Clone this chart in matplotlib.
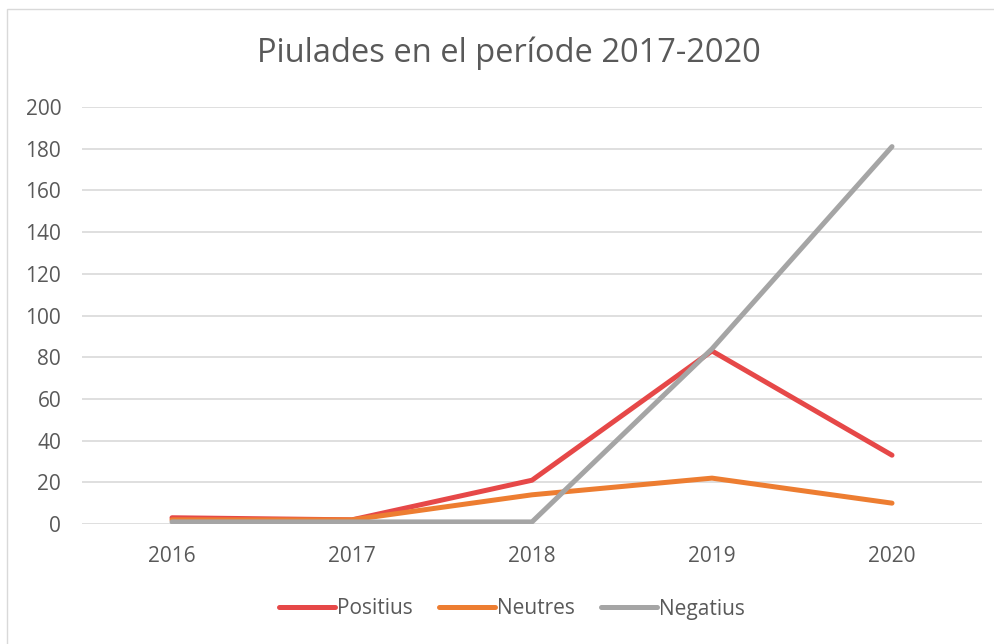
import matplotlib.pyplot as plt
from matplotlib.patches import Rectangle

years = ['2016', '2017', '2018', '2019', '2020']
positius = [3, 2, 21, 83, 33]
neutres = [2, 2, 14, 22, 10]
negatius = [1, 1, 1, 84, 181]

series = [
    ('Positius', positius, '#E64848'),
    ('Neutres', neutres, '#ED7D31'),
    ('Negatius', negatius, '#A5A5A5'),
]

plt.rcParams['font.family'] = ['Open Sans', 'DejaVu Sans']
text_color = '#595959'

fig = plt.figure(figsize=(9.95, 6.44), dpi=100)
ax = fig.add_axes([82 / 995, 1 - 524 / 644, 900 / 995, 417 / 644])

x = range(len(years))
for name, values, color in series:
    ax.plot(x, values, color=color, linewidth=3.6, label=name,
            solid_capstyle='round', solid_joinstyle='round')

ax.set_xlim(-0.5, len(years) - 0.5)
ax.set_ylim(0, 200)
ax.set_yticks(range(0, 201, 20))
ax.set_xticks(list(x))
ax.set_xticklabels(years)
ax.tick_params(length=0, labelsize=15, colors=text_color)
ax.tick_params(axis='x', pad=16)
ax.tick_params(axis='y', pad=15)
ax.grid(axis='y', color='#D9D9D9', linewidth=1.2)
ax.set_axisbelow(True)
for spine in ax.spines.values():
    spine.set_visible(False)

fig.text(509 / 995, 1 - 53 / 644, 'Piulades en el període 2017-2020',
         ha='center', va='center', fontsize=23.5, color=text_color)

fig.legend(loc='center', bbox_to_anchor=(512 / 995, 1 - 609 / 644), ncol=3,
           frameon=False, fontsize=15, labelcolor=text_color,
           handlelength=2.7, handletextpad=0.1, columnspacing=1.25)

# chart border: only top and left edges fall inside the image
fig.patches.append(Rectangle((7 / 995, -10 / 644), 1000 / 995, 645 / 644,
                             transform=fig.transFigure, fill=False,
                             edgecolor='#D9D9D9', linewidth=1))

fig.savefig('out.png', dpi=100)
